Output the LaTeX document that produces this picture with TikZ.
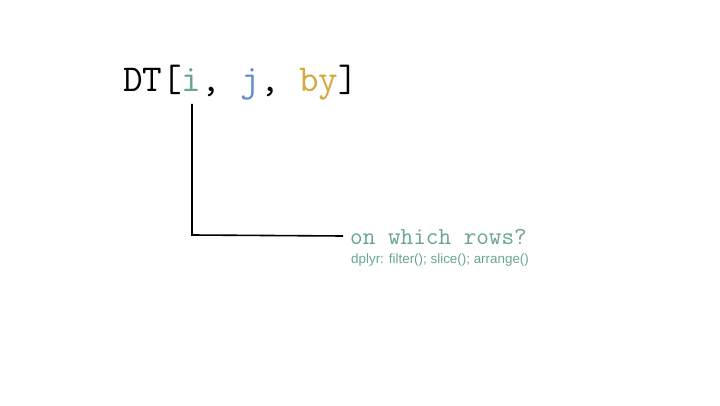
\documentclass[tikz,border=0pt]{standalone}
\usepackage{fontspec}
\setmainfont{Liberation Sans}
\definecolor{igreen}{RGB}{104,166,138}
\definecolor{jblue}{RGB}{98,140,204}
\definecolor{bygold}{RGB}{212,170,62}
\tikzset{
  x=1pt, y=1pt,
  code/.style={inner sep=0pt, anchor=base west, font=\ttfamily\fontsize{38}{38}\selectfont},
  label/.style={inner sep=0pt, anchor=base west, text=igreen},
  leader/.style={line width=1.6pt, black}
}
\begin{document}
\begin{tikzpicture}
\useasboundingbox (0,0) rectangle (720,405);
\node[code] (dt) at (123,313) {DT[\textcolor{igreen}{i}, \textcolor{jblue}{j}, \textcolor{bygold}{by}]};
\node[label, font=\ttfamily\fontsize{24.5}{24.5}\selectfont] (q) at (350,161) {on which rows?};
\node[label, font=\fontsize{13.4}{13.4}\selectfont] (d) at (351,142) {dplyr: filter(); slice(); arrange()};
\coordinate (top) at (192,301);
\coordinate (corner) at (192,170);
\coordinate (end) at (343,169);
\draw[leader] (top) -- (corner) -- (end);
\end{tikzpicture}
\end{document}
